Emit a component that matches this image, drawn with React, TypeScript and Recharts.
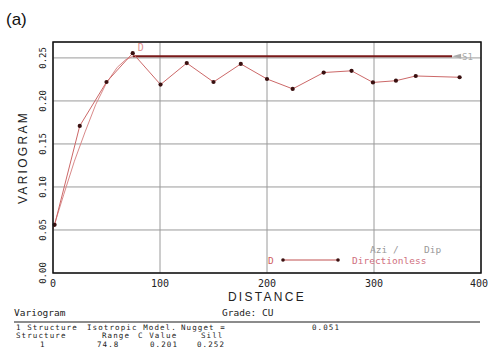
import React from "react";
import {
  ComposedChart,
  Line,
  XAxis,
  YAxis,
  CartesianGrid,
} from "recharts";

// Experimental variogram (directionless)
const lagDistances = [1.5, 25, 50, 74.5, 100.5, 125, 150, 175.5, 200, 224, 253, 279, 299, 320.5, 339, 380];
const lagGamma = [0.056, 0.171, 0.222, 0.2555, 0.219, 0.244, 0.222, 0.243, 0.2255, 0.214, 0.233, 0.235, 0.2215, 0.2235, 0.229, 0.2275];

// Fitted spherical model
const modelDistances = [0, 10, 20, 30, 40, 50, 60, 68, 74.8];
const modelGamma = [0.051, 0.091, 0.13, 0.164, 0.196, 0.221, 0.239, 0.248, 0.252];

// Sill line
const sillDistances = [74.8, 373];
const sillGamma = [0.252, 0.252];

const xTicks = [0, 100, 200, 300, 400];
const yTicks = [0, 0.05, 0.1, 0.15, 0.2, 0.25];

const expData = lagDistances.map((x, i) => ({ x, y: lagGamma[i] }));
const modelData = modelDistances.map((x, i) => ({ x, y: modelGamma[i] }));
const sillData = sillDistances.map((x, i) => ({ x, y: sillGamma[i] }));

const MONO = "'DejaVu Sans Mono', 'Liberation Mono', monospace";
const SANS = "'Liberation Sans', Arial, sans-serif";

const peakIndex = 3;

const XTick = (props: any) => {
  const { x, y, payload } = props;
  return (
    <text x={x} y={y + 6} textAnchor="middle" fontFamily={MONO} fontSize={10} fill="#222">
      {payload.value}
    </text>
  );
};

const YTick = (props: any) => {
  const { x, y, payload } = props;
  const tx = 46;
  return (
    <text
      x={tx}
      y={y}
      transform={`rotate(-90, ${tx}, ${y})`}
      textAnchor="middle"
      fontFamily={MONO}
      fontSize={9}
      fill="#222"
    >
      {Number(payload.value).toFixed(2)}
    </text>
  );
};

const PeakLabel = (props: any) => {
  const { x, y, index } = props;
  if (index !== peakIndex) return null;
  return (
    <text x={x + 5} y={y - 2} fontFamily={MONO} fontSize={10} fill="#e09090">
      D
    </text>
  );
};

const SillLabel = (props: any) => {
  const { x, y, index } = props;
  if (index !== sillData.length - 1) return null;
  return (
    <g>
      <path d={`M ${x} ${y} L ${x + 9} ${y - 2.5} L ${x + 9} ${y + 2.5} Z`} fill="#aaa" />
      <text x={x + 10} y={y + 3.5} fontFamily={MONO} fontSize={9} fill="#aaa">
        S1
      </text>
    </g>
  );
};

const ExpDot = (props: any) => {
  const { cx, cy } = props;
  return <circle cx={cx} cy={cy} r={2.1} fill="#3a1010" stroke="none" />;
};

const T = (p: { x: number; y: number; s: string }) => (
  <text x={p.x} y={p.y} fontFamily={MONO} fontSize={7.5} letterSpacing={1.1} fill="#222">
    {p.s}
  </text>
);

export default function App() {
  return (
    <div style={{ position: "absolute", left: 0, top: 0, width: 491, height: 358, background: "#fff" }}>
      <ComposedChart
        width={491}
        height={358}
        margin={{ top: 42, right: 10, bottom: 65, left: 0 }}
      >
        <CartesianGrid stroke="#9a9a9a" strokeWidth={1} />
        <XAxis
          type="number"
          dataKey="x"
          domain={[0, 400]}
          ticks={xTicks}
          height={20}
          tickLine={false}
          axisLine={false}
          tick={<XTick />}
          label={{
            content: (p: any) => {
              const vb = p.viewBox;
              return (
                <text
                  x={vb.x + vb.width / 2}
                  y={vb.y + 28}
                  textAnchor="middle"
                  fontFamily={SANS}
                  fontSize={12}
                  letterSpacing={2.3}
                  fill="#222"
                >
                  DISTANCE
                </text>
              );
            },
          }}
        />
        <YAxis
          type="number"
          dataKey="y"
          domain={[0, 0.2685]}
          ticks={yTicks}
          width={53}
          tickLine={false}
          axisLine={false}
          tick={<YTick />}
          label={{
            content: (p: any) => {
              const vb = p.viewBox;
              const cx = 27;
              const cy = vb.y + vb.height / 2;
              return (
                <text
                  x={cx}
                  y={cy}
                  transform={`rotate(-90, ${cx}, ${cy})`}
                  textAnchor="middle"
                  fontFamily={SANS}
                  fontSize={12}
                  letterSpacing={2.3}
                  fill="#222"
                >
                  VARIOGRAM
                </text>
              );
            },
          }}
        />
        <Line
          data={modelData}
          dataKey="y"
          type="linear"
          stroke="#d98a8a"
          strokeWidth={1}
          dot={false}
          isAnimationActive={false}
        />
        <Line
          data={sillData}
          dataKey="y"
          type="linear"
          stroke="#7a1a1a"
          strokeWidth={2}
          dot={false}
          label={<SillLabel />}
          isAnimationActive={false}
        />
        <Line
          data={expData}
          dataKey="y"
          type="linear"
          stroke="#cc6868"
          strokeWidth={1}
          dot={<ExpDot />}
          label={<PeakLabel />}
          isAnimationActive={false}
        />
      </ComposedChart>
      <svg
        width={491}
        height={358}
        style={{ position: "absolute", left: 0, top: 0, pointerEvents: "none" }}
      >
        <text x={6} y={25} fontFamily={SANS} fontSize={17} fill="#111">
          (a)
        </text>
        <rect x={53} y={42} width={428} height={231} fill="none" stroke="#111" strokeWidth={1.5} />
        {/* legend */}
        <text x={370} y={253} fontFamily={MONO} fontSize={9.5} fill="#999">Azi /</text>
        <text x={424} y={253} fontFamily={MONO} fontSize={9.5} fill="#999">Dip</text>
        <text x={268} y={264} fontFamily={MONO} fontSize={9.5} fill="#d06060">D</text>
        <line x1={283} y1={260} x2={338} y2={260} stroke="#c05050" strokeWidth={1} />
        <circle cx={283} cy={260} r={1.8} fill="#3a1010" />
        <circle cx={338} cy={260} r={1.8} fill="#3a1010" />
        <text x={352} y={264} fontFamily={MONO} fontSize={9.5} fill="#d07080">Directionless</text>
        {/* info block */}
        <text x={14} y={316} fontFamily={MONO} fontSize={9.5} fill="#222">Variogram</text>
        <text x={222} y={316} fontFamily={MONO} fontSize={9.5} fill="#222">Grade: CU</text>
        <line x1={14} y1={322} x2={480} y2={322} stroke="#666" strokeWidth={1.5} />
        <T x={16} y={330} s="1 Structure" />
        <T x={87} y={330} s="Isotropic Model." />
        <T x={181} y={330} s="Nugget =" />
        <T x={312} y={330} s="0.051" />
        <T x={16} y={338} s="Structure" />
        <T x={102} y={338} s="Range" />
        <T x={138} y={338} s="C Value" />
        <T x={201} y={338} s="Sill" />
        <T x={40} y={347} s="1" />
        <T x={97} y={347} s="74.8" />
        <T x={150} y={347} s="0.201" />
        <T x={197} y={347} s="0.252" />
      </svg>
    </div>
  );
}
